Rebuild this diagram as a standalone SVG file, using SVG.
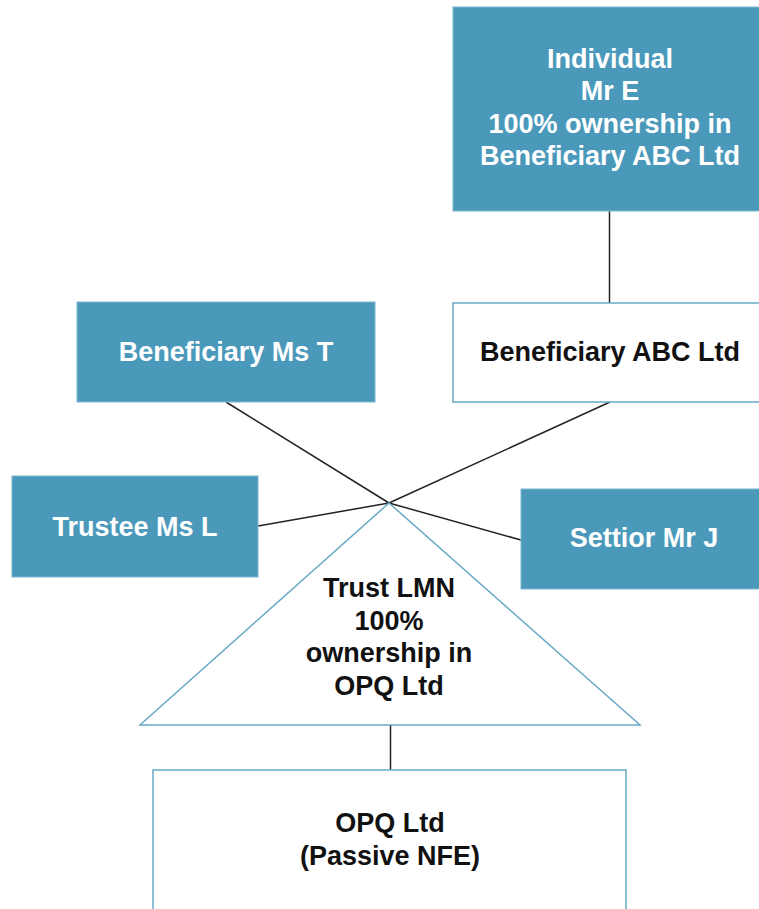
<svg xmlns="http://www.w3.org/2000/svg" width="759" height="909" viewBox="0 0 759 909">
<style>
.fill{fill:#4A99BB;stroke:#7DB6D0;stroke-width:1}
.outline{fill:#fff;stroke:#6AA9C6;stroke-width:1.5}
.t{font-family:"Liberation Sans",Arial,sans-serif;font-weight:bold;font-size:27px;text-anchor:middle}
.w{fill:#fff}
.k{fill:#111}
.c{stroke:#222;stroke-width:1.5;fill:none}
</style>
<rect width="759" height="909" fill="#fff"/>
<g id="connectors">
<line class="c" x1="609.5" y1="211" x2="609.5" y2="303"/>
<line class="c" x1="226" y1="402" x2="389" y2="503"/>
<line class="c" x1="610" y1="402" x2="389" y2="503"/>
<line class="c" x1="258" y1="526" x2="389" y2="503"/>
<line class="c" x1="521" y1="540" x2="389" y2="503"/>
<line class="c" x1="390.5" y1="725" x2="390.5" y2="770"/>
</g>
<g id="individual">
<rect class="fill" x="453" y="7" width="314" height="204"/>
<text class="t w"><tspan x="610" y="68">Individual</tspan><tspan x="610" y="100">Mr E</tspan><tspan x="610" y="133">100% ownership in</tspan><tspan x="610" y="165">Beneficiary ABC Ltd</tspan></text>
</g>
<g id="abc">
<rect class="outline" x="453" y="303" width="314" height="99"/>
<text class="t k" x="610" y="361">Beneficiary ABC Ltd</text>
</g>
<g id="mst">
<rect class="fill" x="77" y="302" width="298" height="100"/>
<text class="t w" x="226" y="361">Beneficiary Ms T</text>
</g>
<g id="msl">
<rect class="fill" x="12" y="476" width="246" height="101"/>
<text class="t w" x="135" y="536">Trustee Ms L</text>
</g>
<g id="mrj">
<rect class="fill" x="521" y="489" width="246" height="100"/>
<text class="t w" x="644" y="547">Settior Mr J</text>
</g>
<g id="trust">
<polygon class="outline" points="389,503 640,725 140,725"/>
<text class="t k"><tspan x="389" y="597">Trust LMN</tspan><tspan x="389" y="630">100%</tspan><tspan x="389" y="662">ownership in</tspan><tspan x="389" y="695">OPQ Ltd</tspan></text>
</g>
<g id="opq">
<rect class="outline" x="153" y="770" width="473" height="150"/>
<text class="t k"><tspan x="390" y="832">OPQ Ltd</tspan><tspan x="390" y="865">(Passive NFE)</tspan></text>
</g>
</svg>
